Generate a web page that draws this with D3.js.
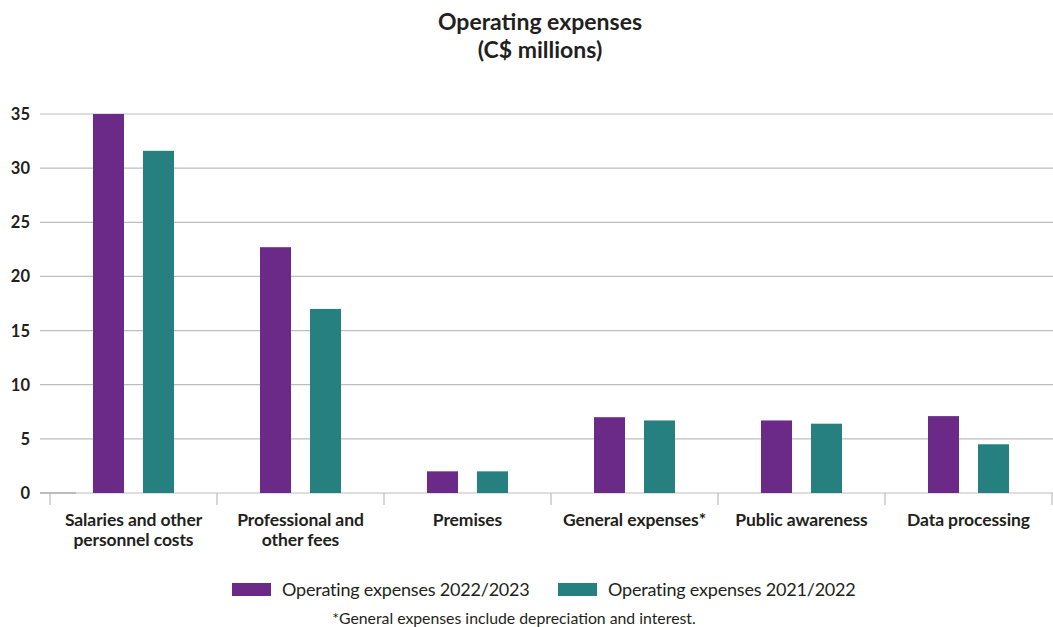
<!DOCTYPE html>
<html>
<head>
<meta charset="utf-8">
<script src="https://cdn.jsdelivr.net/npm/d3@7"></script>
<style>
  html, body { margin: 0; padding: 0; background: #fff; }
  svg { display: block; font-family: Lato, "Open Sans", sans-serif; }
</style>
</head>
<body>
<svg id="chart" width="1053" height="627"></svg>
<script>
// Operating expenses by category, C$ millions
const categories = [
  ["Salaries and other", "personnel costs"],
  ["Professional and", "other fees"],
  ["Premises"],
  ["General expenses*"],
  ["Public awareness"],
  ["Data processing"]
];
const series = ["Operating expenses 2022/2023", "Operating expenses 2021/2022"];
const values2023 = [35.0, 22.7, 2.0, 7.0, 6.7, 7.1];
const values2022 = [31.6, 17.0, 2.0, 6.7, 6.4, 4.5];
const yTicks = [0, 5, 10, 15, 20, 25, 30, 35];
const colors = ["#6c2a88", "#268080"];

const svg = d3.select("#chart");
const ink = "#231f20";

const x = d3.scaleBand()
  .domain(categories.map((d, i) => i))
  .range([50, 1052])
  .paddingInner(0).paddingOuter(0);

const x1 = d3.scaleBand()
  .domain([0, 1])
  .range([43, x.bandwidth() - 43])
  .paddingInner(0.38);

const y = d3.scaleLinear().domain([0, 35]).range([493, 114]);

// Title
svg.append("text")
  .attr("x", 540).attr("y", 30)
  .attr("text-anchor", "middle")
  .attr("font-size", 23).attr("font-weight", 700).attr("fill", ink)
  .text("Operating expenses");
svg.append("text")
  .attr("x", 540).attr("y", 58)
  .attr("text-anchor", "middle")
  .attr("font-size", 23).attr("font-weight", 700).attr("fill", ink)
  .text("(C$ millions)");

// Horizontal gridlines
svg.append("g")
  .selectAll("line")
  .data(yTicks)
  .join("line")
  .attr("x1", 40).attr("x2", 1053)
  .attr("y1", d => y(d)).attr("y2", d => y(d))
  .attr("stroke", "#bdbdbd").attr("stroke-width", 1.2);

// Y axis labels
svg.append("g")
  .selectAll("text")
  .data(yTicks)
  .join("text")
  .attr("x", 30).attr("y", d => y(d) + 6)
  .attr("text-anchor", "end")
  .attr("font-size", 16.5).attr("font-weight", 700).attr("fill", ink)
  .text(d => d);

// Category separators
svg.append("g")
  .selectAll("line")
  .data(d3.range(categories.length + 1))
  .join("line")
  .attr("x1", i => i < categories.length ? x(i) : x(categories.length - 1) + x.bandwidth())
  .attr("x2", i => i < categories.length ? x(i) : x(categories.length - 1) + x.bandwidth())
  .attr("y1", 493).attr("y2", 505)
  .attr("stroke", "#bdbdbd").attr("stroke-width", 1.2);

// Bars
const groups = svg.append("g")
  .selectAll("g")
  .data(categories.map((c, i) => [values2023[i], values2022[i]]))
  .join("g")
  .attr("transform", (d, i) => `translate(${x(i)},0)`);

groups.selectAll("rect")
  .data(d => d)
  .join("rect")
  .attr("x", (d, j) => x1(j))
  .attr("width", x1.bandwidth())
  .attr("y", d => y(d))
  .attr("height", d => y(0) - y(d))
  .attr("fill", (d, j) => colors[j]);

// Baseline accent
svg.append("line")
  .attr("x1", 40).attr("x2", 76)
  .attr("y1", y(0)).attr("y2", y(0))
  .attr("stroke", "#9a9a9a").attr("stroke-width", 1.2);

// Category labels
svg.append("g")
  .selectAll("text")
  .data(categories)
  .join("text")
  .attr("x", (d, i) => x(i) + x.bandwidth() / 2)
  .attr("y", 526)
  .attr("text-anchor", "middle")
  .attr("font-size", 17.5).attr("font-weight", 700).attr("fill", ink)
  .attr("letter-spacing", -0.1)
  .each(function (lines) {
    const t = d3.select(this);
    lines.forEach((line, k) => {
      t.append("tspan")
        .attr("x", t.attr("x"))
        .attr("dy", k === 0 ? 0 : 20)
        .text(line);
    });
  });

// Legend
const legendX = [232, 558];
const legend = svg.append("g")
  .selectAll("g")
  .data(series)
  .join("g")
  .attr("transform", (d, i) => `translate(${legendX[i]},583)`);
legend.append("rect")
  .attr("width", 39).attr("height", 13)
  .attr("fill", (d, i) => colors[i]);
legend.append("text")
  .attr("x", 50).attr("y", 13)
  .attr("font-size", 18).attr("fill", ink)
  .attr("letter-spacing", -0.2)
  .text(d => d);

// Footnote
svg.append("text")
  .attr("x", 514).attr("y", 624)
  .attr("text-anchor", "middle")
  .attr("font-size", 15.8).attr("fill", ink)
  .text("*General expenses include depreciation and interest.");
</script>
</body>
</html>
